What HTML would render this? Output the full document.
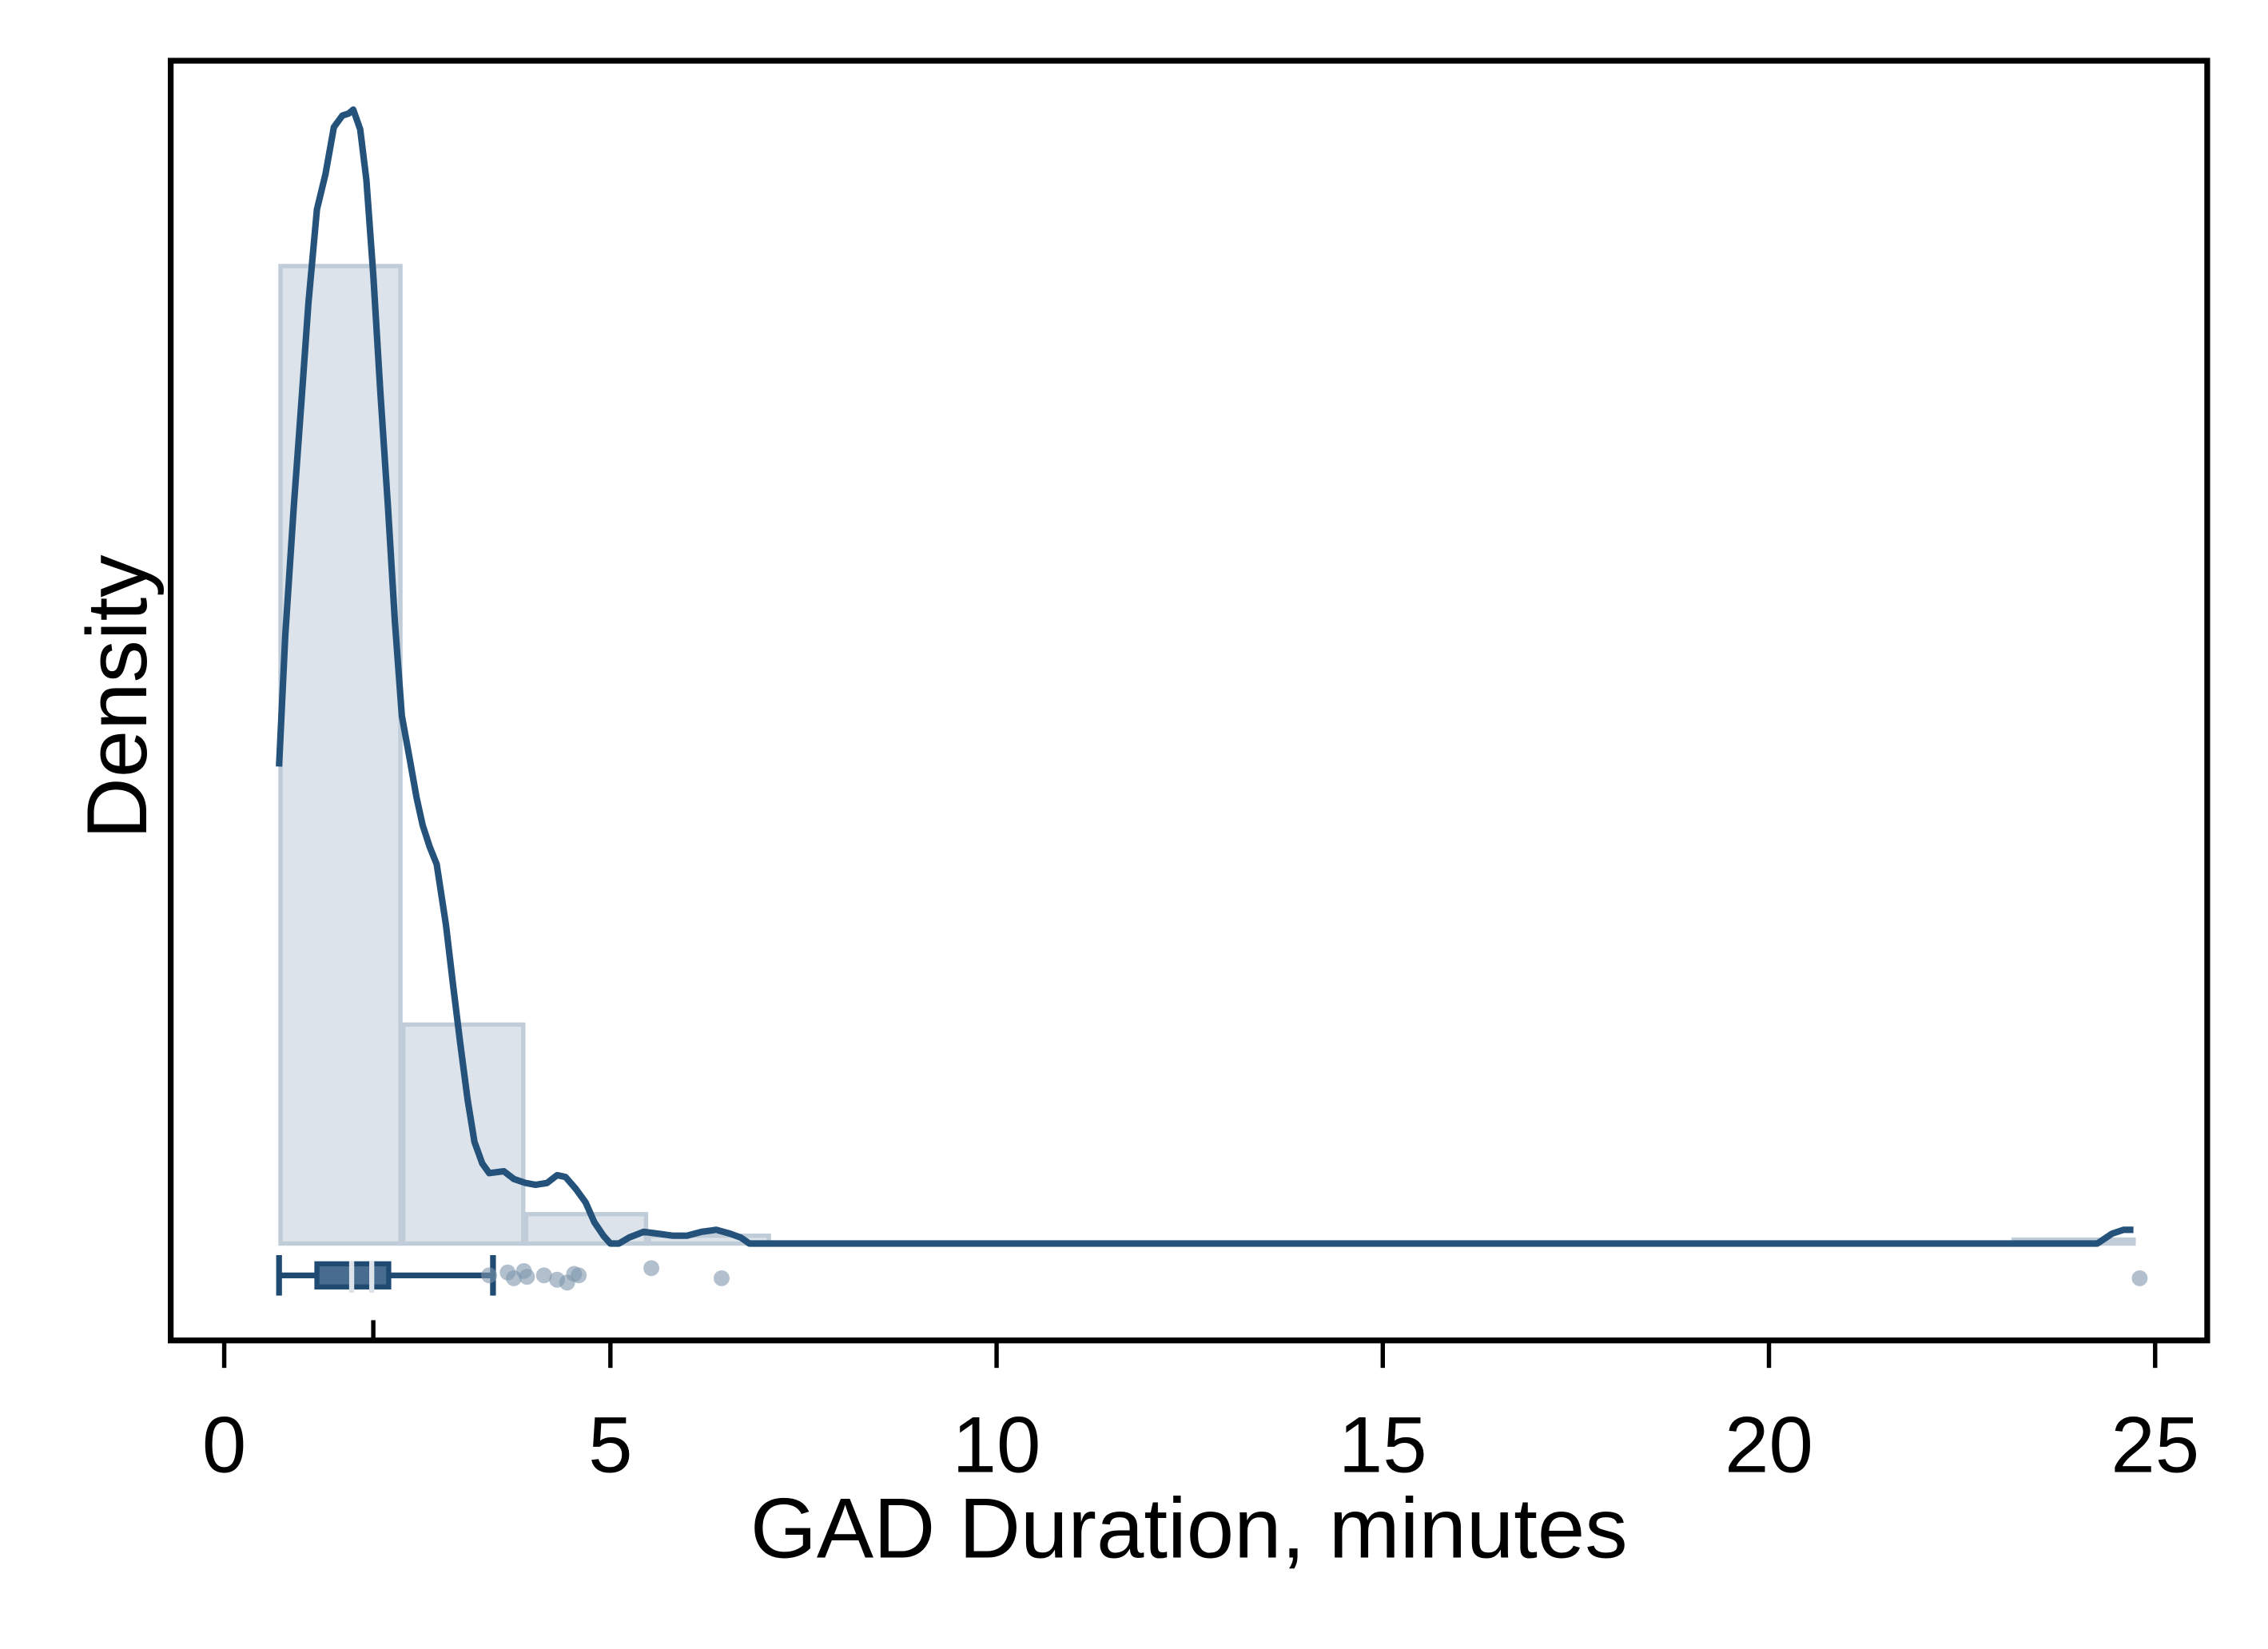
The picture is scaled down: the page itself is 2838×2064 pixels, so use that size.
<!DOCTYPE html>
<html><head><meta charset="utf-8"><style>
html,body{margin:0;padding:0;background:#fff;}
svg{display:block;}
text{font-family:"Liberation Sans",Arial,sans-serif;fill:#000;}
</style></head><body>
<svg id="chart" width="2838" height="2064" viewBox="0 0 1568 1140.4" xmlns="http://www.w3.org/2000/svg">
<rect x="0" y="0" width="1568" height="1140.4" fill="#fff"/>
<g id="bars"></g>
<g id="kde"></g>
<g id="box"></g>
<g id="dots"></g>
<rect x="118" y="42" width="1408" height="885" fill="none" stroke="#000" stroke-width="4"/>
<g id="axis"></g>
<text x="822" y="1077" font-size="59" text-anchor="middle">GAD Duration, minutes</text>
<text x="0" y="0" font-size="59" text-anchor="middle" transform="translate(101,482) rotate(-90)">Density</text>
</svg>
<script>
const binEdgesStart = [0.71, 2.30, 3.89, 5.48, 23.15];
const binWidth = 1.59;
const binHeights = [0.500, 0.112, 0.015, 0.004, 0.002];
const kdeX = [0.71,0.79,0.90,1.01,1.09,1.20,1.31,1.42,1.53,1.61,1.67,1.76,1.84,1.93,2.02,2.12,2.21,2.30,2.40,2.49,2.57,2.66,2.75,2.87,2.96,3.05,3.15,3.24,3.34,3.43,3.62,3.75,3.90,4.03,4.18,4.31,4.42,4.55,4.68,4.79,4.91,5.00,5.11,5.24,5.43,5.62,5.81,5.99,6.18,6.37,6.55,6.69,6.80,24.25,24.44,24.59,24.72];
const kdeY = [0.244,0.311,0.377,0.436,0.481,0.529,0.547,0.571,0.577,0.578,0.580,0.570,0.544,0.495,0.436,0.377,0.318,0.270,0.248,0.228,0.214,0.203,0.194,0.163,0.133,0.104,0.074,0.052,0.041,0.036,0.037,0.033,0.031,0.030,0.031,0.035,0.034,0.028,0.021,0.011,0.004,0.000,0.000,0.003,0.006,0.005,0.004,0.004,0.006,0.007,0.005,0.003,0.000,0.000,0.005,0.007,0.007];
const boxStats = {min:0.71, q1:1.20, med:1.93, q3:2.13, max:3.48};
const ciLines = [1.65, 1.91];
const outliers = [3.43,3.67,3.75,3.88,3.92,4.14,4.31,4.44,4.53,4.59,5.53,6.44,24.80];
const outlierJitter = [0,-2,2,-3,1,0,3,5,-1,0,-5,2,2];
const xTicks = [0,5,10,15,20,25];
const xTickLabels = ["0","5","10","15","20","25"];

const NS="http://www.w3.org/2000/svg";
const X0=155, XS=53.4, Y0=860, YS=1352;
const sx=v=>X0+v*XS, sy=v=>Y0-v*YS;
function mk(tag,attrs,parent){const e=document.createElementNS(NS,tag);for(const k in attrs)e.setAttribute(k,attrs[k]);document.getElementById(parent).appendChild(e);return e;}

binEdgesStart.forEach((b,i)=>{
  const e=mk('rect',{x:sx(b)+1,y:sy(binHeights[i]),width:binWidth*XS-2,height:binHeights[i]*YS,fill:'#dce3ea',stroke:'#c0cdd9','stroke-width':3},'bars');
  
  
});

let d=kdeX.map((x,i)=>(i?'L':'M')+sx(x).toFixed(1)+','+sy(kdeY[i]).toFixed(1)).join(' ');
const kl=mk('path',{d:d,fill:'none',stroke:'#24527a','stroke-width':4.5,'stroke-linejoin':'round'},'kde');



const by=882;
let w=mk('line',{x1:sx(boxStats.min),x2:sx(boxStats.max),y1:by,y2:by,stroke:'#1f4a72','stroke-width':4},'box');


[boxStats.min,boxStats.max].forEach(v=>{
  const c=mk('line',{x1:sx(v),x2:sx(v),y1:868,y2:896,stroke:'#1f4a72','stroke-width':4},'box');
  
  
});
let bx=mk('rect',{x:sx(boxStats.q1),y:874,width:(boxStats.q3-boxStats.q1)*XS,height:16,fill:'#476c90',stroke:'#1f4a72','stroke-width':3.5},'box');


ciLines.forEach(v=>{
  const c=mk('line',{x1:sx(v),x2:sx(v),y1:872,y2:894,stroke:'#dde3ea','stroke-width':3.5},'box');
  
  
});
outliers.forEach((v,i)=>{
  const c=mk('circle',{cx:sx(v),cy:by+outlierJitter[i],r:5.5,fill:'#7f96ae','fill-opacity':0.6},'dots');
  
  
});

const mt=mk('line',{x1:sx(boxStats.med),x2:sx(boxStats.med),y1:913,y2:927,stroke:'#000','stroke-width':3},'axis');


xTicks.forEach((t,i)=>{
  const l=mk('line',{x1:sx(t),x2:sx(t),y1:927,y2:946,stroke:'#000','stroke-width':3},'axis');
  
  
  const tx=mk('text',{x:sx(t),y:1018,'font-size':55,'text-anchor':'middle'},'axis');
  tx.textContent=xTickLabels[i];
  
  
});
</script>
</body></html>
